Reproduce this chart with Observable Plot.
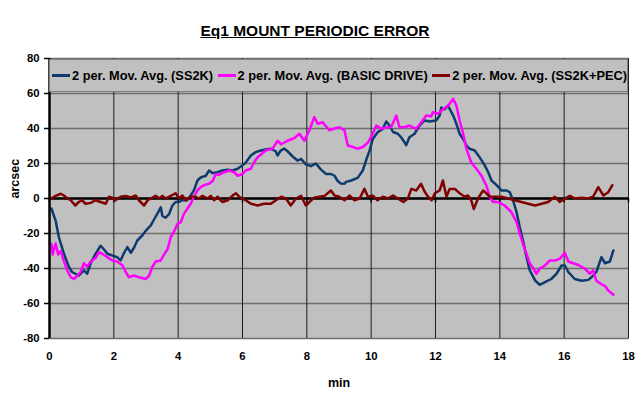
<!DOCTYPE html>
<html><head><meta charset="utf-8">
<script src="https://cdn.jsdelivr.net/npm/d3@7"></script>
<script src="https://cdn.jsdelivr.net/npm/@observablehq/plot@0.6"></script>
<style>
body{margin:0;background:#fff;font-family:"Liberation Sans",Arial,sans-serif;}
#wrap{position:relative;width:640px;height:393px;overflow:hidden;background:#fff}
#title{height:45px;width:630px;text-align:center;font-weight:bold;font-size:15.5px;line-height:16px;padding-top:23px;box-sizing:border-box}
#title span{text-decoration:underline}
#legend{position:absolute;left:49px;top:59px;width:579px;height:33px;background:#c0c0c0;border:1px solid #808080;box-sizing:border-box;display:flex;justify-content:space-between;align-items:center;padding:0 0 0 2px}
.item{display:flex;align-items:center;font-weight:bold;font-size:12.8px;white-space:nowrap;color:#000}
.sw{display:inline-block;width:18px;height:2.5px;margin-right:2px}
</style></head>
<body>
<div id="wrap">
<div id="title"><span>Eq1 MOUNT PERIODIC ERROR</span></div>
<div id="chart"></div>
<div id="legend"></div>
</div>
<script>
const seriesNames = ["2 per. Mov. Avg. (SS2K)", "2 per. Mov. Avg. (BASIC DRIVE)", "2 per. Mov. Avg. (SS2K+PEC)"];
const seriesColors = ["#0d3b6e", "#ff00ff", "#800000"];
const xTicks = [0, 2, 4, 6, 8, 10, 12, 14, 16, 18];
const yTicks = [-80, -60, -40, -20, 0, 20, 40, 60, 80];
const xLabel = "min";
const yLabel = "arcsec";

const ss2kT = [0.06,0.19,0.29,0.45,0.6,0.7,0.91,1.07,1.17,1.28,1.43,1.59,1.69,1.8,1.95,2.1,2.21,2.32,2.42,2.53,2.63,2.73,2.89,2.99,3.15,3.25,3.35,3.46,3.51,3.61,3.72,3.82,3.92,4.03,4.13,4.28,4.39,4.49,4.6,4.7,4.86,4.96,5.07,5.22,5.38,5.54,5.69,5.85,6.0,6.1,6.26,6.41,6.57,6.72,6.88,7.03,7.09,7.19,7.3,7.4,7.56,7.71,7.82,7.97,8.13,8.28,8.44,8.6,8.75,8.86,8.96,9.06,9.17,9.22,9.38,9.58,9.74,9.84,9.95,10.05,10.2,10.36,10.47,10.57,10.68,10.83,10.93,11.04,11.09,11.19,11.35,11.5,11.66,11.82,12.02,12.13,12.18,12.28,12.39,12.55,12.65,12.75,12.86,12.96,13.06,13.22,13.37,13.53,13.64,13.74,13.9,14.05,14.2,14.31,14.41,14.52,14.62,14.72,14.83,14.93,15.1,15.24,15.45,15.6,15.76,15.92,16.02,16.13,16.33,16.54,16.75,16.85,17.0,17.16,17.27,17.42,17.53];
const ss2kV = [-5.7,-12.6,-22,-31.6,-39,-42,-44,-41,-43,-37,-31.6,-27,-29,-31.6,-32.6,-33.5,-35.4,-31,-27.8,-31,-28,-24,-21,-18.5,-15.4,-12,-8.8,-5,-10,-11,-8.8,-4,-2,-2,-1,-1,1.7,4.6,10.3,12,13,16,14.5,15,16,16.5,16,17,19,20.5,24.6,26.5,27.4,28,28.5,27,24.6,27.4,28.5,27,24,21.7,22.6,19.5,18.5,20,16.5,14,14,13,10,8.5,8.4,9.5,10.3,11.8,16,21.7,27.4,34,37.9,39.8,44,41.7,38,37,35,32,30.5,35,37,41.7,44.6,44,44.6,47.4,52,51,53,47.4,42.7,37,34,30.3,28.4,27.4,23.6,18.9,15,10.3,7.6,4.6,4.6,3.6,-1,-7.8,-16.4,-24,-33.5,-41,-46.9,-49.3,-47.4,-46,-43,-38.3,-38.3,-42,-46,-47,-46.5,-45,-42,-33.5,-37,-36,-29.7];

const basicT = [0.06,0.1,0.19,0.27,0.35,0.45,0.55,0.66,0.76,0.87,0.97,1.07,1.17,1.28,1.43,1.54,1.64,1.8,1.95,2.1,2.26,2.37,2.47,2.63,2.78,2.99,3.1,3.2,3.3,3.46,3.56,3.67,3.77,3.87,3.98,4.08,4.18,4.28,4.39,4.49,4.6,4.7,4.8,4.96,5.07,5.17,5.27,5.43,5.59,5.74,5.85,6.0,6.1,6.26,6.36,6.47,6.72,6.93,7.09,7.2,7.4,7.61,7.77,7.92,8.08,8.23,8.34,8.49,8.7,8.86,9.01,9.17,9.27,9.43,9.58,9.74,9.9,10.05,10.16,10.31,10.47,10.62,10.78,10.88,11.04,11.19,11.4,11.56,11.71,11.87,11.92,12.08,12.23,12.39,12.55,12.65,12.75,12.86,12.96,13.11,13.27,13.43,13.58,13.69,13.79,13.95,14.15,14.36,14.52,14.62,14.72,14.83,14.93,15.04,15.14,15.24,15.4,15.55,15.71,15.86,16.02,16.13,16.28,16.44,16.64,16.8,16.9,17.0,17.16,17.27,17.37,17.53];
const basicV = [-26,-32,-25.7,-32,-30,-36,-41,-45,-46,-44,-42,-37,-39,-36,-34,-30.7,-31.6,-33.5,-35.4,-36,-38,-42,-45,-44,-45,-46,-44,-39,-36,-35.4,-32,-29,-22,-19,-14.5,-13.6,-8.8,-6,-3,1,4.6,6.5,7.6,8.5,10,14,13.5,15,16,15,13,14,16,17,20.7,23.6,27.4,28.4,33,31,33,34.5,37,33,39,46.5,42.7,43.6,39,40,40.7,39,30.3,29.4,28.4,29.4,32,37,41.7,39.8,40.7,40.7,47.4,40.7,40.7,41.7,39.8,43.6,47.4,47,49.3,48.4,51,53,57,53,44.6,37,28.4,20.7,17,13,7.4,0.8,-2,-2,-4,-7.8,-13.5,-20,-26,-31.6,-37,-40,-43,-40,-38.3,-35.4,-35.4,-34.5,-31,-36,-37,-38,-40,-43,-41,-47,-49,-50,-52.6,-55];

const pecT = [0.06,0.19,0.35,0.45,0.55,0.66,0.8,0.91,1.01,1.12,1.28,1.43,1.59,1.75,1.85,1.95,2.05,2.21,2.37,2.53,2.68,2.78,2.94,3.05,3.15,3.3,3.41,3.51,3.61,3.77,3.92,4.03,4.13,4.23,4.39,4.54,4.65,4.75,4.91,5.01,5.12,5.22,5.38,5.54,5.69,5.8,5.9,6.0,6.1,6.26,6.47,6.67,6.88,7.04,7.2,7.35,7.5,7.66,7.82,7.97,8.08,8.23,8.39,8.55,8.75,8.86,9.01,9.17,9.33,9.48,9.64,9.79,9.9,10.05,10.2,10.36,10.52,10.68,10.83,11.0,11.14,11.25,11.4,11.55,11.66,11.77,11.88,11.98,12.13,12.23,12.34,12.44,12.6,12.75,12.91,13.01,13.11,13.19,13.32,13.48,13.58,13.69,13.84,14.05,14.26,14.46,14.67,14.88,15.1,15.3,15.5,15.71,15.86,16.02,16.18,16.33,16.54,16.75,16.9,17.06,17.22,17.37,17.5];
const pecV = [0,1.5,2.7,1.7,0,-1,-4,-2,-1,-3,-2.5,-1,-2,-3,1,0.5,-1,1,1.5,0.6,1.7,-1,-4,-1,0,1.5,0,1.5,0,1.5,3,0,1.7,-1,1,1,0,1.5,0,1.5,-1,1,-2,-1,1.7,3,1,0,-1,-3,-4,-3,-3,-1,1,0,-4,0,1.5,-4,-2,0.5,1,1.5,4.6,1.7,1,-1,1.7,-1,0,5.5,1,1.7,-1,1,0,1.7,0,-2,0,5.5,4.6,8.4,4,1,-1,3,4.6,10.3,1,5.5,5.5,3,1,1.7,-1,-6,0,4.6,3,1,1,1,0,-1,-2,-3,-4,-3,-2,1,-2,0,1.5,0,0.5,0,1,6.5,1.7,3.6,7.6];

const toRows = (ts, vs) => ts.map((t, i) => ({t, v: vs[i]}));
const series = [toRows(ss2kT, ss2kV), toRows(basicT, basicV), toRows(pecT, pecV)];
const fmt = d => String(d);

const chart = Plot.plot({
  width: 640, height: 348,
  marginTop: 13, marginBottom: 55, marginLeft: 49, marginRight: 12,
  style: {fontFamily: "'Liberation Sans', Arial, sans-serif", fontSize: "11.3px", fontWeight: "bold", color: "#000", background: "transparent", overflow: "visible"},
  x: {domain: [0, 18], ticks: xTicks, label: null},
  y: {domain: [-80, 80], ticks: yTicks, label: null},
  marks: [
    Plot.frame({fill: "#c0c0c0", stroke: "#808080"}),
    Plot.gridY(yTicks, {stroke: "#6e6e6e", strokeOpacity: 1, strokeWidth: 1.3}),
    Plot.gridX(xTicks, {stroke: "#1e1e1e", strokeOpacity: 1, strokeWidth: 1}),
    Plot.ruleY([0], {stroke: "#000", strokeWidth: 2.5}),
    Plot.ruleX(xTicks, {y1: 0, y2: -2.5, stroke: "#000", strokeWidth: 1.5}),
    ...series.map((rows, i) => Plot.line(rows, {x: "t", y: "v", stroke: seriesColors[i], strokeWidth: 2.5, strokeLinejoin: "round"})),
    Plot.ruleX([0], {stroke: "#000", strokeWidth: 2.5}),
    Plot.axisX(xTicks, {tickSize: 0, tickPadding: 13, label: null, tickFormat: fmt}),
    Plot.axisY(yTicks, {tickSize: 5, tickPadding: 5, stroke: "#000", strokeWidth: 1.5, label: null, tickFormat: fmt}),
    Plot.text([xLabel], {frameAnchor: "bottom", dy: 44, fontSize: 12.5, fontWeight: "bold", lineAnchor: "middle"}),
    Plot.text([yLabel], {frameAnchor: "left", dx: -35, rotate: -90, fontSize: 12.5, fontWeight: "bold", lineAnchor: "middle"})
  ]
});
document.getElementById("chart").appendChild(chart);

const legend = document.getElementById("legend");
seriesNames.forEach((name, i) => {
  const item = document.createElement("div");
  item.className = "item";
  const sw = document.createElement("span");
  sw.className = "sw";
  sw.style.background = seriesColors[i];
  item.appendChild(sw);
  item.appendChild(document.createTextNode(name));
  legend.appendChild(item);
});
</script>
</body></html>
